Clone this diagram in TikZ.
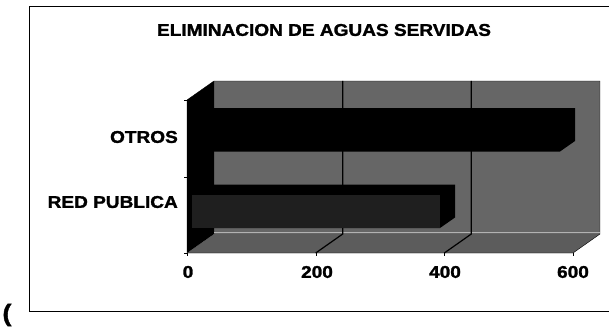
\documentclass[tikz,border=0pt]{standalone}
\usepackage{fontspec}
\setmainfont{Liberation Sans}[FakeStretch=1.12,BoldFeatures={FakeBold=1.6}]
\usepackage{tikz}

\begin{document}
\begin{tikzpicture}[x=1pt,y=-1pt]
		\tikzstyle{every node}+=[inner sep=0pt]
		\tikzset{lbl/.style={font=\fontsize{17}{17}\selectfont\bfseries}}
		\useasboundingbox (0,0) rectangle (609,326);
		\draw [black] (609,6) -- (29,6) -- (29,311) -- (609,311);
		\node (paren) at (7,315) {\fontsize{24}{24}\selectfont\bfseries (};
		\node [lbl] (title) at (324,30) {ELIMINACION DE AGUAS SERVIDAS};
		\fill [black!60] (214,81) rectangle (600,234);
		\fill [black!64] (187,253) -- (214,234) -- (600,234) -- (573,253) -- cycle;
		\fill [black] (187,100) -- (214,81) -- (214,234) -- (187,253) -- cycle;
		\draw [black] (214,81) -- (600,81) -- (600,234) -- (573,253) -- (187,253) -- (187,100) -- cycle;
		\draw [black!30] (214,232) -- (600,232);
		\draw [black,line width=1.2pt] (342.7,81) -- (342.7,234) -- (315.7,253);
		\draw [black,line width=1.2pt] (471.3,81) -- (471.3,234) -- (444.3,253);
		\fill [black] (192,118.5) -- (207,108) -- (575,108) -- (575,141) -- (560,151.5) -- (192,151.5) -- cycle;
		\fill [black] (192,195) -- (207,184.5) -- (455,184.5) -- (455,217.5) -- (440,228) -- (192,228) -- cycle;
		\fill [black!88] (192,195) rectangle (440,228);
		\draw [black] (184,100) -- (187,100);
		\draw [black] (184,177) -- (187,177);
		\draw [black] (184,253) -- (187,253);
		\draw [black] (187,253) -- (187,256);
		\draw [black] (315.7,253) -- (315.7,256);
		\draw [black] (444.3,253) -- (444.3,256);
		\draw [black] (573,253) -- (573,256);
		\node [lbl,anchor=east] (otros) at (178,137) {OTROS};
		\node [lbl,anchor=east] (red) at (178,202) {RED PUBLICA};
		\node [lbl] (x0) at (188,272) {0};
		\node [lbl] (x200) at (317,272) {200};
		\node [lbl] (x400) at (445,272) {400};
		\node [lbl] (x600) at (573,272) {600};
		\end{tikzpicture}
\end{document}
